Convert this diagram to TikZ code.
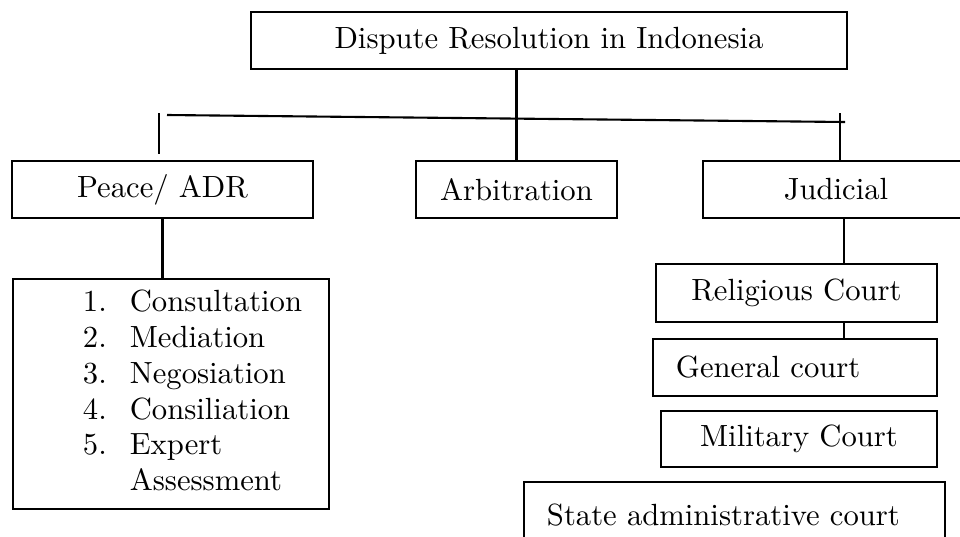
\documentclass[tikz,border=0pt]{standalone}
\usepackage{tikz}
\usetikzlibrary{positioning}

\begin{document}
\begin{tikzpicture}[x=0.0125cm,y=-0.0125cm,
        line width=0.75pt,
        main node/.style={rectangle,draw,font=\fontsize{10.9}{12.7}\selectfont,minimum height=0.7125cm,inner sep=0pt},
        left node/.style={main node,align=left,inner xsep=0.2875cm}]
      \useasboundingbox (0,0) rectangle (960,536);
      \clip (0,0) rectangle (960,536);

      \node[main node,minimum width=7.45cm] (0) at (549,40.5) {Dispute Resolution in Indonesia};
      \node[main node,minimum width=3.7625cm] (1) at (162.5,189.5) {Peace/ ADR};
      \node[main node,minimum width=2.5125cm] (2) at (516.5,189.5) {Arbitration};
      \node[main node,minimum width=3.325cm] (3) at (836,189.5) {Judicial};

      \node[main node,minimum width=3.95cm,minimum height=2.875cm] (4) at (171,394)
        {\begin{tabular}{@{\hspace{15.3pt}}l@{\hspace{8.2pt}}l@{}}
          1. & Consultation\\
          2. & Mediation\\
          3. & Negosiation\\
          4. & Consiliation\\
          5. & Expert\\
             & Assessment
        \end{tabular}};

      \node[main node,minimum width=3.5125cm,minimum height=0.725cm] (10) at (796.5,293) {Religious Court};
      \node[left node,text width=2.975cm] (11) at (795,367.5) {General court};
      \node[main node,minimum width=3.45cm,minimum height=0.7cm] (12) at (799,439) {Military Court};
      \node[left node,text width=4.6875cm,minimum height=0.825cm] (13) at (734.5,515) {State administrative court};

      \coordinate (5) at (167,115);
      \coordinate (6) at (845,122);
      \coordinate (7) at (159,113);
      \coordinate (8) at (840,113);
      \coordinate (9) at (844,218);

      \path (5) edge (6)
      (7) edge[shorten >=2pt] (7 |- 1.north)
      (8) edge (8 |- 3.north)
      (0.south -| 2.north) edge (2.north)
      (1.south) edge (1.south |- 4.north)
      (9) edge (9 |- 10.north)
      (9 |- 10.south) edge (9 |- 11.north);
    \end{tikzpicture}
\end{document}
